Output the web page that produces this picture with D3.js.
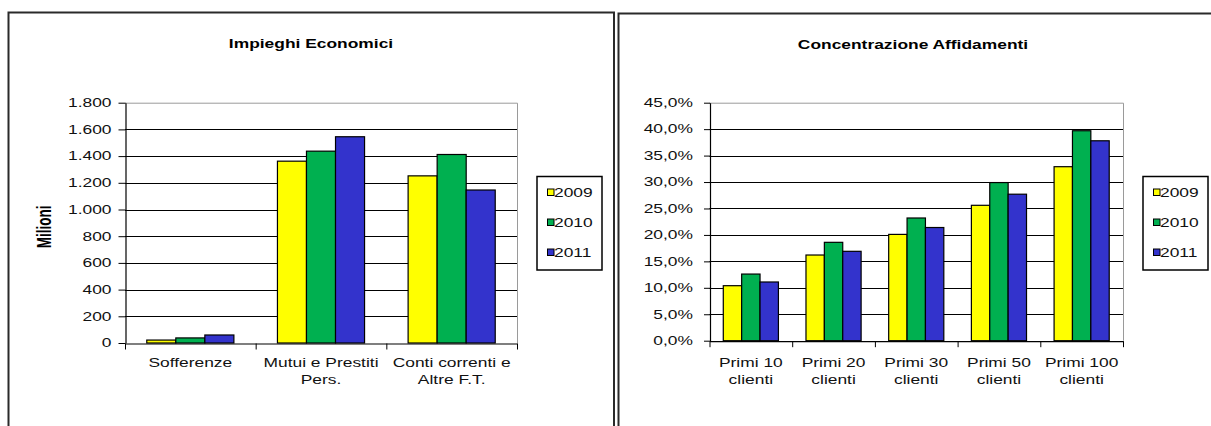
<!DOCTYPE html>
<html>
<head>
<meta charset="utf-8">
<script src="https://cdn.jsdelivr.net/npm/d3@7"></script>
<style>
  html, body { margin: 0; padding: 0; background: #fff; }
  svg { display: block; font-family: Arial, "Liberation Sans", sans-serif; }
</style>
</head>
<body>
<svg id="chart" width="1211" height="426"></svg>
<script>
// ---- data ----
const years = ["2009", "2010", "2011"];
const yearColors = ["#FFFF00", "#00B050", "#3333CC"];

const impieghiCategories = ["Sofferenze", "Mutui e Prestiti\nPers.", "Conti correnti e\nAltre F.T."];
const impieghi2009 = [22, 1362, 1252];
const impieghi2010 = [38, 1437, 1412];
const impieghi2011 = [60, 1545, 1146];
const impieghiTicks = [0, 200, 400, 600, 800, 1000, 1200, 1400, 1600, 1800];

const concCategories = ["Primi 10\nclienti", "Primi 20\nclienti", "Primi 30\nclienti", "Primi 50\nclienti", "Primi 100\nclienti"];
const conc2009 = [0.104, 0.162, 0.201, 0.256, 0.329];
const conc2010 = [0.126, 0.186, 0.232, 0.299, 0.397];
const conc2011 = [0.111, 0.169, 0.214, 0.277, 0.378];
const concTicks = [0, 0.05, 0.10, 0.15, 0.20, 0.25, 0.30, 0.35, 0.40, 0.45];

// Italian number formatting (1.800 / 45,0%)
const itLocale = d3.formatLocale({ decimal: ",", thousands: ".", grouping: [3], currency: ["€", ""] });
const fmtThousands = itLocale.format(",");
const fmtPercent = itLocale.format(".1%");

// text in this chart is drawn horizontally widened
const SX = 1.45;
const FONT = 12;

const svg = d3.select("#chart");

function panel(cfg) {
  const g = svg.append("g");

  // outer chart frame
  g.append("rect")
    .attr("x", cfg.frame[0]).attr("y", cfg.frame[1])
    .attr("width", cfg.frame[2]).attr("height", cfg.frame[3])
    .attr("fill", "#fff").attr("stroke", "#2a2a2a").attr("stroke-width", 2);

  // title
  g.append("text")
    .attr("transform", `translate(${cfg.titleX},${cfg.titleY}) scale(${SX},1)`)
    .attr("text-anchor", "middle")
    .attr("font-size", FONT).attr("font-weight", "bold").attr("fill", "#000")
    .text(cfg.title);

  const { left, right, top, bottom } = cfg.plot;

  const y = d3.scaleLinear().domain([0, cfg.yMax]).range([bottom, top]);
  const x0 = d3.scaleBand().domain(cfg.categories).range([left, right])
    .paddingInner(1 / 3).paddingOuter(1 / 6);
  const x1 = d3.scaleBand().domain(years).range([0, x0.bandwidth()]);
  const color = d3.scaleOrdinal().domain(years).range(yearColors);

  // plot area border (top / right) in grey
  g.append("path")
    .attr("d", `M${left},${y(cfg.yMax) + 0.5}H${right + 0.5}V${bottom}`)
    .attr("fill", "none").attr("stroke", "#9a9a9a").attr("stroke-width", 1);

  // horizontal gridlines
  g.append("g").selectAll("line")
    .data(cfg.ticks.filter(t => t > 0 && t < cfg.yMax))
    .join("line")
    .attr("x1", left).attr("x2", right)
    .attr("y1", d => Math.round(y(d)) + 0.5).attr("y2", d => Math.round(y(d)) + 0.5)
    .attr("stroke", "#000").attr("stroke-width", 1);

  // bars
  const rows = cfg.categories.map((c, i) => ({ cat: c, vals: cfg.series.map((s, k) => ({ year: years[k], v: s[i] })) }));
  g.append("g").selectAll("g")
    .data(rows).join("g")
    .attr("transform", d => `translate(${x0(d.cat)},0)`)
    .selectAll("rect")
    .data(d => d.vals).join("rect")
    .attr("x", d => x1(d.year))
    .attr("y", d => y(d.v))
    .attr("width", x1.bandwidth())
    .attr("height", d => y(0) - y(d.v))
    .attr("fill", d => color(d.year))
    .attr("stroke", "#000").attr("stroke-width", 1.2);

  // y axis
  const yAxis = d3.axisLeft(y)
    .tickValues(cfg.ticks)
    .tickFormat(cfg.format)
    .tickSize(cfg.yTickLen)
    .tickSizeOuter(0)
    .tickPadding(cfg.yPad);
  const ya = g.append("g").attr("transform", `translate(${left + 0.5},0)`).call(yAxis);
  ya.select(".domain").attr("stroke", "#000").attr("stroke-width", 1.2);
  ya.selectAll(".tick line").attr("stroke", "#000");
  ya.selectAll(".tick text")
    .attr("font-size", FONT).attr("font-family", "Arial, 'Liberation Sans', sans-serif")
    .attr("fill", "#111")
    .attr("x", -(cfg.yTickLen + cfg.yPad) / SX)
    .attr("transform", `scale(${SX},1)`);

  // x axis: ticks on category boundaries
  const xb = d3.scaleLinear().domain([0, cfg.categories.length]).range([left, right]);
  const xAxis = d3.axisBottom(xb)
    .tickValues(d3.range(cfg.categories.length + 1))
    .tickFormat("")
    .tickSize(6)
    .tickSizeOuter(0);
  const xa = g.append("g").attr("transform", `translate(0,${bottom + 0.5})`).call(xAxis);
  xa.select(".domain").attr("stroke", "#000").attr("stroke-width", 1.2);
  xa.selectAll(".tick line").attr("stroke", "#000");

  // category labels (may wrap on two lines)
  const lab = g.append("g").selectAll("text")
    .data(cfg.categories).join("text")
    .attr("transform", d => `translate(${x0(d) + x0.bandwidth() / 2},${cfg.labelY}) scale(${SX},1)`)
    .attr("text-anchor", "middle")
    .attr("font-size", FONT).attr("fill", "#111");
  lab.selectAll("tspan")
    .data(d => d.split("\n")).join("tspan")
    .attr("x", 0)
    .attr("dy", (d, i) => i === 0 ? 0 : 18)
    .text(d => d);

  // y axis title
  if (cfg.yTitle) {
    g.append("text")
      .attr("transform", `translate(${cfg.yTitleX},${(top + bottom) / 2 + 4}) scale(${SX},1) rotate(-90)`)
      .attr("text-anchor", "middle")
      .attr("font-size", 13.5).attr("font-weight", "bold").attr("fill", "#000")
      .text(cfg.yTitle);
  }

  // legend
  const [lx, ly, lw, lh] = cfg.legend;
  g.append("rect")
    .attr("x", lx).attr("y", ly).attr("width", lw).attr("height", lh)
    .attr("fill", "#fff").attr("stroke", "#000").attr("stroke-width", 1.5);
  const items = g.append("g").selectAll("g")
    .data(years).join("g")
    .attr("transform", (d, i) => `translate(${lx + 10},${ly + 16 + i * 30})`);
  items.append("rect")
    .attr("x", 0.5).attr("y", -3.5).attr("width", 6.5).attr("height", 6.5)
    .attr("fill", d => color(d)).attr("stroke", "#000").attr("stroke-width", 1);
  items.append("text")
    .attr("transform", `translate(7,4.5) scale(${SX},1)`)
    .attr("font-size", FONT).attr("fill", "#111")
    .text(d => d);
}

panel({
  frame: [8.5, 12.5, 605.5, 520],
  title: "Impieghi Economici",
  titleX: 311, titleY: 47.5,
  plot: { left: 125, right: 517, top: 102.7, bottom: 343 },
  yMax: 1800,
  ticks: impieghiTicks,
  format: fmtThousands,
  yTickLen: 7, yPad: 7,
  categories: impieghiCategories,
  series: [impieghi2009, impieghi2010, impieghi2011],
  labelY: 366.5,
  yTitle: "Milioni", yTitleX: 50.5,
  legend: [537, 176.5, 65, 93.5]
});

panel({
  frame: [618.5, 13.5, 640, 520],
  title: "Concentrazione Affidamenti",
  titleX: 913, titleY: 48.5,
  plot: { left: 709.5, right: 1123, top: 102.7, bottom: 340.7 },
  yMax: 0.45,
  ticks: concTicks,
  format: fmtPercent,
  yTickLen: 6, yPad: 11,
  categories: concCategories,
  series: [conc2009, conc2010, conc2011],
  labelY: 366.5,
  legend: [1143, 176.5, 65, 93.5]
});
</script>
</body>
</html>
